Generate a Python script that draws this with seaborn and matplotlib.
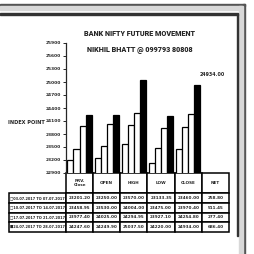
import matplotlib
matplotlib.use("Agg")
import matplotlib.pyplot as plt
from matplotlib.patches import Rectangle
import pandas as pd
import seaborn as sns

# --- datos ---
weeks = ["03.07.2017 TO 07.07.2017", "10.07.2017 TO 14.07.2017",
         "17.07.2017 TO 21.07.2017", "24.07.2017 TO 28.07.2017"]
columns = ["PRV.\nClose", "OPEN", "HIGH", "LOW", "CLOSE", "NET"]
prv_close = [23201.20, 23458.95, 23977.40, 24247.60]
open_ = [23250.00, 23530.00, 24025.00, 24249.90]
high = [23570.00, 24004.00, 24294.95, 25037.50]
low = [23133.35, 23475.00, 23927.10, 24220.00]
close = [23460.00, 23970.40, 24254.80, 24934.00]
net = [258.80, 511.45, 277.40, 686.40]
yticks = list(range(22900, 25901, 300))

series = [prv_close, open_, high, low, close, net]
rows = []
for col, vals in zip(columns, series):
    for w, v in zip(weeks, vals):
        rows.append({"col": col, "week": w, "value": v})
df = pd.DataFrame(rows)

sns.set_style("white")
plt.rcParams["font.family"] = ["DejaVu Sans"]

W = 254
fig = plt.figure(figsize=(2.54, 2.54), dpi=100)

def px(x0, y0, x1, y1):
    return [x0 / W, 1 - y1 / W, (x1 - x0) / W, (y1 - y0) / W]

AX_W, AX_H = 229 - 66, 173 - 43
ax = fig.add_axes(px(66, 43, 229, 173))
sns.barplot(data=df, x="col", y="value", hue="week", order=columns, hue_order=weeks,
            palette=["white", "white", "white", "black"], edgecolor="black",
            linewidth=0.9, width=0.9, legend=False, ax=ax)
ax.set_ylim(22900, 25900)
ax.set_yticks(yticks)
ax.set_yticklabels([str(t) for t in yticks], fontsize=3.2, fontweight="bold")
ax.tick_params(axis="y", length=2, width=0.7, pad=1.5, left=True)
ax.tick_params(axis="x", bottom=False, labelbottom=False)
ax.set_xlabel("")
ax.set_ylabel("")
for s in ["top", "right", "bottom"]:
    ax.spines[s].set_visible(False)
ax.spines["left"].set_linewidth(0.9)

ax.text(4.87, close[3] + 230, f"{close[3]:.2f}", fontsize=3.4, fontweight="bold",
        ha="center", va="center")

# titulo
fig.text(140 / W, 1 - 34 / W, "BANK NIFTY FUTURE MOVEMENT", fontsize=5.2,
         fontweight="black", ha="center", va="center", family="Roboto")
fig.text(140 / W, 1 - 50 / W, "NIKHIL BHATT @ 099793 80808", fontsize=5.2,
         fontweight="black", ha="center", va="center", family="Roboto")
fig.text(26 / W, 1 - 122 / W, "INDEX POINT", fontsize=3.6, fontweight="bold",
         ha="center", va="center")

# tabla de datos (bbox solo cubre las celdas de datos; las etiquetas de fila quedan a la izquierda)
markers = ["\u25a1", "\u25a1", "\u25a1", "\u25a0"]
cell_text = [[f"{v:.2f}" for v in row] for row in zip(*series)]
tb = ax.table(cellText=cell_text, rowLabels=[m + w for m, w in zip(markers, weeks)],
              colLabels=columns, cellLoc="center", rowLoc="center",
              bbox=[0, -(232 - 173) / AX_H, 1, (232 - 173) / AX_H])
tb.auto_set_font_size(False)
for (r, c), cell in tb.get_celld().items():
    cell.set_linewidth(1.1)
    cell.get_text().set_fontsize(3.0)
    cell.get_text().set_fontweight("bold")
    cell.set_height((20 if r == 0 else 9.75) / AX_H)
    cell.set_width((64 if c == -1 else AX_W / 6) / AX_W)
    if c == -1:
        cell.PAD = 0.02
        cell.get_text().set_fontsize(2.55)

# marco
fig.add_artist(Rectangle((0, 1 - 6 / W), 245 / W, 2 / W, color="#555555", transform=fig.transFigure))
fig.add_artist(Rectangle((242.5 / W, 0), 2.5 / W, 1 - 4 / W, color="#555555", transform=fig.transFigure))
fig.add_artist(Rectangle((0, 1 - 10 / W), 242 / W, 4 / W, color="#d8d8d8", transform=fig.transFigure))
fig.add_artist(Rectangle((238.5 / W, 0), 4 / W, 1 - 6 / W, color="#d8d8d8", transform=fig.transFigure))
fig.add_artist(Rectangle((0, 1 - 14.5 / W), 237.5 / W, 1.2 / W, color="#333333", transform=fig.transFigure))
fig.add_artist(Rectangle((236.5 / W, 1 - 236 / W), 1.2 / W, 222 / W, color="#333333", transform=fig.transFigure))

fig.savefig("out.png", dpi=100)
